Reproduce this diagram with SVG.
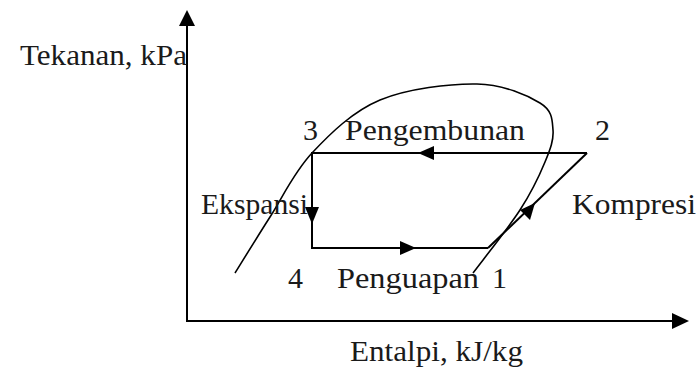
<svg xmlns="http://www.w3.org/2000/svg" width="699" height="367" viewBox="0 0 699 367">
<style>
text{font-family:"Liberation Serif","Times New Roman",serif;font-size:30px;fill:#1a1a1a}
.ln{stroke:#000;stroke-width:2;fill:none}
.cv{stroke:#000;stroke-width:1.6;fill:none}
.ah{fill:#000}
</style>
<rect width="699" height="367" fill="#fff"/>
<g id="axes">
<line class="ln" x1="187" y1="22" x2="187" y2="321"/>
<polygon class="ah" points="187,10 179,26 195,26"/>
<line class="ln" x1="186" y1="321" x2="676" y2="321"/>
<polygon class="ah" points="689,321 672,313 672,329"/>
<text x="20" y="65" textLength="167" lengthAdjust="spacingAndGlyphs">Tekanan, kPa</text>
<text x="350" y="361" textLength="173" lengthAdjust="spacingAndGlyphs">Entalpi, kJ/kg</text>
</g>
<g id="dome">
<path class="cv" d="M235,273 C240.8,263.7 257.2,237 270,217 C282.8,197 293.7,172.5 312,153 C330.3,133.5 352.5,111.5 380,100 C407.5,88.5 450.3,83.5 477,84 C503.7,84.5 527.3,95.3 540,103 C552.7,110.7 552.2,120.2 553,130 C553.8,139.8 550.5,148.7 545,162 C539.5,175.3 532,191.5 520,210 C508,228.5 480.8,262.5 473,273"/>
</g>
<g id="connectors">
<line class="ln" x1="312" y1="153" x2="587" y2="153"/>
<line class="ln" x1="312" y1="152" x2="312" y2="249"/>
<line class="ln" x1="311" y1="248" x2="488" y2="248"/>
<line class="ln" x1="488" y1="248" x2="587" y2="153"/>
<polygon class="ah" points="418,153 434,146 434,160"/>
<polygon class="ah" points="312,224 305,207 319,207"/>
<polygon class="ah" points="416,248 400,241 400,255"/>
<polygon class="ah" points="535,203 530,220 520,210"/>
</g>
<g id="node3"><text x="303" y="140">3</text></g>
<g id="node2"><text x="595" y="140">2</text></g>
<g id="node4"><text x="288" y="288">4</text></g>
<g id="node1"><text x="492" y="288">1</text></g>
<g id="labels">
<text x="345" y="140" textLength="180" lengthAdjust="spacingAndGlyphs">Pengembunan</text>
<text x="201" y="214" textLength="107" lengthAdjust="spacingAndGlyphs">Ekspansi</text>
<text x="572" y="214" textLength="124" lengthAdjust="spacingAndGlyphs">Kompresi</text>
<text x="337" y="288" textLength="142" lengthAdjust="spacingAndGlyphs">Penguapan</text>
</g>
</svg>
